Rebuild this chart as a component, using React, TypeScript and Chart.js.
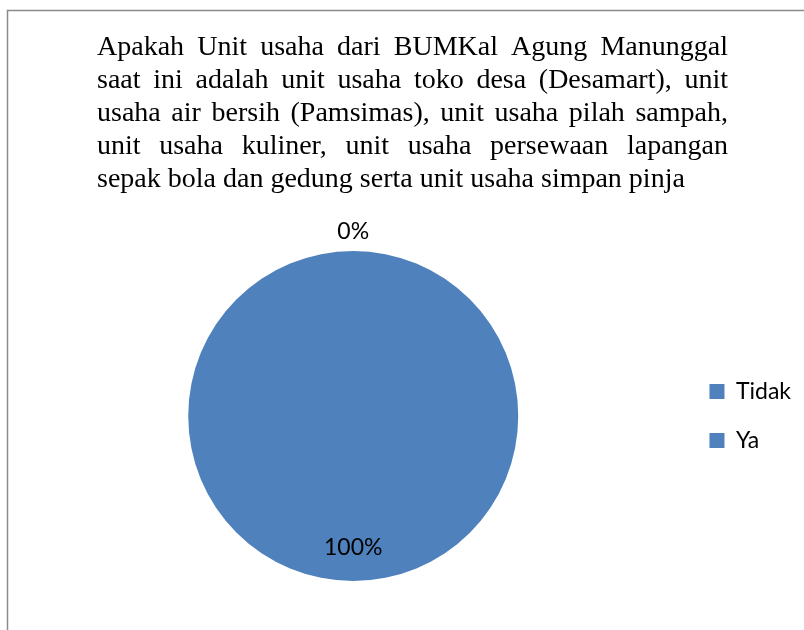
import React, { useEffect, useRef } from "react";
import { Chart, registerables } from "chart.js";

Chart.register(...registerables);

const categories: string[] = ["Tidak", "Ya"];
const values: number[] = [0, 100];
const sliceColors: string[] = ["#4F81BD", "#4F81BD"];
const titleLines: string[] = [
  "Apakah Unit usaha dari BUMKal Agung Manunggal",
  "saat ini adalah unit usaha toko desa (Desamart), unit",
  "usaha air bersih (Pamsimas), unit usaha pilah sampah,",
  "unit usaha kuliner, unit usaha persewaan lapangan",
  "sepak bola dan gedung serta unit usaha simpan pinja",
];

const W = 804;
const H = 630;
const SANS = "Lato";

const frameAndTitle = {
  id: "frameAndTitle",
  beforeDraw(chart: any) {
    const ctx = chart.ctx as CanvasRenderingContext2D;
    ctx.save();
    ctx.fillStyle = "#ffffff";
    ctx.fillRect(0, 0, W, H);
    // outer frame
    ctx.strokeStyle = "#8a8a8a";
    ctx.lineWidth = 1.5;
    ctx.strokeRect(7.5, 10.5, W + 20, H + 20);
    // justified title
    ctx.fillStyle = "#000000";
    ctx.font = '28px "Liberation Serif"';
    ctx.textBaseline = "alphabetic";
    ctx.textAlign = "left";
    const left = 97;
    const right = 728;
    const width = right - left;
    titleLines.forEach((line, i) => {
      const y = 55 + i * 33;
      if (i === titleLines.length - 1) {
        ctx.fillText(line, left, y);
        return;
      }
      const words = line.split(" ");
      const widths = words.map((w) => ctx.measureText(w).width);
      const sum = widths.reduce((a, b) => a + b, 0);
      const gap = (width - sum) / (words.length - 1);
      let x = left;
      words.forEach((w, k) => {
        ctx.fillText(w, x, y);
        x += widths[k] + gap;
      });
    });
    ctx.restore();
  },
};

const percentLabels = {
  id: "percentLabels",
  afterDatasetsDraw(chart: any) {
    const ctx = chart.ctx as CanvasRenderingContext2D;
    const meta = chart.getDatasetMeta(0);
    const data = chart.data.datasets[0].data as number[];
    const total = data.reduce((a, b) => a + b, 0);
    ctx.save();
    ctx.fillStyle = "#000000";
    ctx.font = `23px "${SANS}"`;
    ctx.textAlign = "center";
    ctx.textBaseline = "middle";
    meta.data.forEach((arc: any, i: number) => {
      const p = arc.getProps(["x", "y", "startAngle", "endAngle", "outerRadius"], true);
      const frac = total ? data[i] / total : 0;
      const mid = (p.startAngle + p.endAngle) / 2;
      const r = frac < 0.05 ? p.outerRadius + 19 : p.outerRadius * 0.8;
      const tx = p.x + Math.cos(mid) * r;
      const ty = p.y + Math.sin(mid) * r;
      ctx.fillText(Math.round(frac * 100) + "%", tx, ty);
    });
    ctx.restore();
  },
};

export default function App() {
  const ref = useRef<HTMLCanvasElement | null>(null);
  useEffect(() => {
    if (!ref.current) return;
    const chart = new Chart(ref.current, {
      type: "pie",
      data: {
        labels: categories,
        datasets: [
          {
            data: values,
            backgroundColor: sliceColors,
            borderWidth: 0,
          },
        ],
      },
      options: {
        responsive: false,
        animation: false,
        devicePixelRatio: 1,
        layout: { padding: { top: 251, bottom: 49, left: 23, right: 3 } },
        plugins: {
          title: { display: false },
          tooltip: { enabled: false },
          legend: {
            display: true,
            position: "right",
            align: "center",
            labels: {
              color: "#000000",
              font: { family: SANS, size: 23 },
              boxWidth: 15,
              boxHeight: 15,
              padding: 26,
            },
          },
        },
      },
      plugins: [frameAndTitle, percentLabels],
    });
    return () => chart.destroy();
  }, []);
  return (
    <div style={{ position: "absolute", left: 0, top: 0, width: W, height: H }}>
      <canvas ref={ref} width={W} height={H} style={{ width: W, height: H }} />
    </div>
  );
}
